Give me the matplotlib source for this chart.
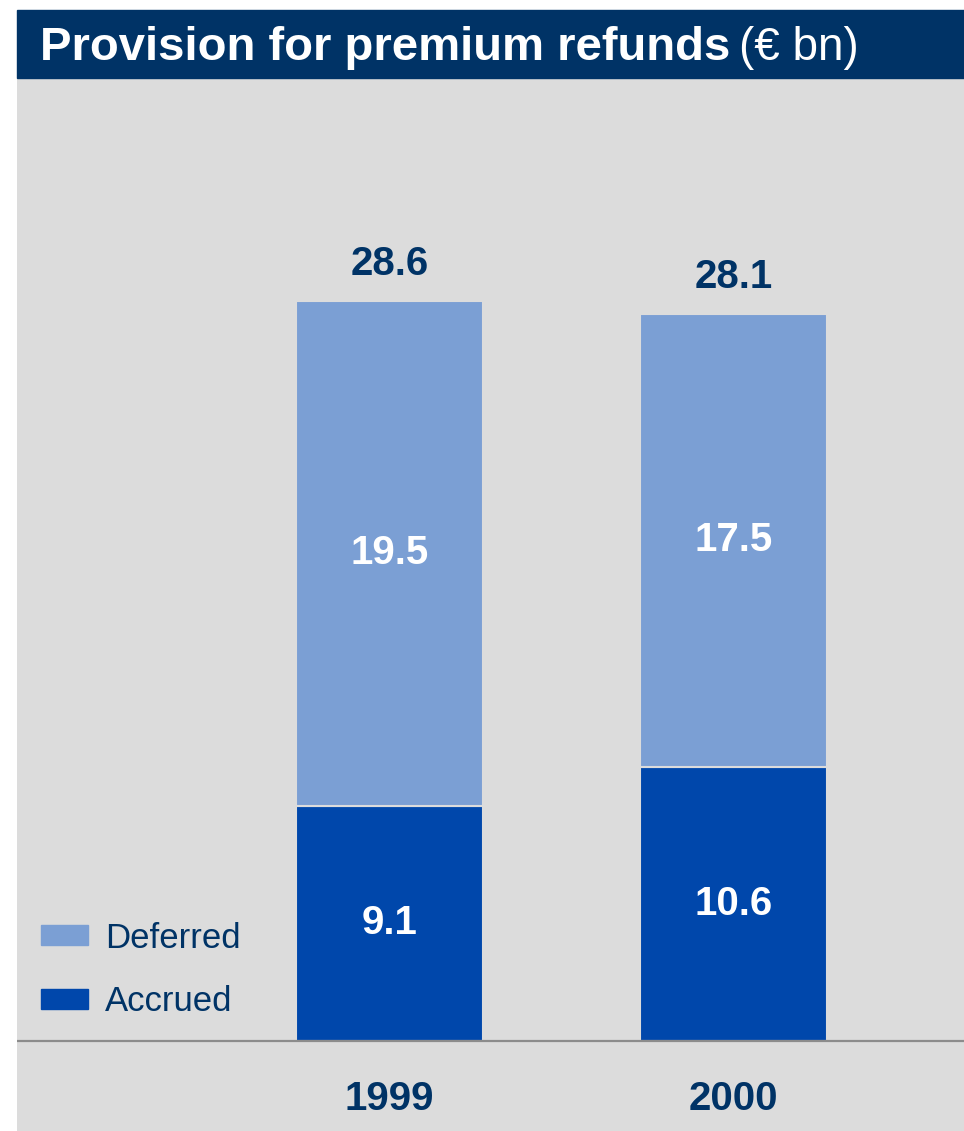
"""
Provision for premium refunds (EUR bn) - stacked bars 1999 vs 2000.
Output: out.png
"""

import matplotlib
matplotlib.use("Agg")
import matplotlib.pyplot as plt
from matplotlib.patches import Rectangle, Patch

years = ["1999", "2000"]
accrued = [9.1, 10.6]
deferred = [19.5, 17.5]
totals = [28.6, 28.1]

NAVY = "#003366"
C_DEF = "#7B9FD4"
C_ACC = "#0047AB"
BG = "#DCDCDC"

plt.rcParams["font.family"] = ["Liberation Sans", "DejaVu Sans"]

W, H = 964, 1131
fig = plt.figure(figsize=(W / 100, H / 100), dpi=100)
fig.patch.set_facecolor("white")

# panel gris
ax = fig.add_axes([17 / W, 0, (W - 17) / W, (H - 78) / H])
ax.set_facecolor(BG)
for s in ax.spines.values():
    s.set_visible(False)

# barra de titulo
fig.patches.append(Rectangle((17 / W, 1 - 78 / H), (W - 17) / W, 68 / H,
                             transform=fig.transFigure, color=NAVY, zorder=0))
t = fig.text(40 / W, 1 - 60 / H, "Provision for premium refunds",
             color="white", fontsize=34, fontweight="bold", va="baseline")
fig.canvas.draw()
bb = t.get_window_extent()
fig.text((bb.x1 + 9) / W, 1 - 60 / H, "(€ bn)", color="white",
         fontsize=33, va="baseline")

x = [0, 1]
bw = 0.544
ax.bar(x, accrued, width=bw, color=C_ACC, edgecolor=BG, linewidth=1.5,
       label="Accrued", zorder=3)
ax.bar(x, deferred, width=bw, bottom=accrued, color=C_DEF, edgecolor=BG,
       linewidth=1.5, label="Deferred", zorder=3)

ax.axhline(0, color="#8C8C8C", linewidth=1.6, zorder=4)

for i in range(len(x)):
    ax.text(x[i], accrued[i] / 2, f"{accrued[i]:.1f}", ha="center",
            va="center", color="white", fontsize=29, fontweight="bold",
            zorder=5)
    ax.text(x[i], accrued[i] + deferred[i] / 2, f"{deferred[i]:.1f}",
            ha="center", va="center", color="white", fontsize=29,
            fontweight="bold", zorder=5)
    ax.annotate(f"{totals[i]:.1f}", xy=(x[i], accrued[i] + deferred[i]),
                xytext=(0, 19), textcoords="offset points", ha="center",
                va="baseline", color=NAVY, fontsize=29, fontweight="bold")
    ax.annotate(years[i], xy=(x[i], 0), xytext=(0, -50),
                textcoords="offset points", ha="center", va="baseline",
                color=NAVY, fontsize=29, fontweight="bold")

ax.set_xlim(-1.083, 1.670)
ax.set_ylim(-3.48, 37.22)
ax.set_xticks([])
ax.set_yticks([])

handles = [Patch(color=C_DEF, label="Deferred"),
           Patch(color=C_ACC, label="Accrued")]
ax.legend(handles=handles, loc="center left", bbox_to_anchor=(0.025, 0.153),
          frameon=False, fontsize=25, labelcolor=NAVY, handlelength=1.36,
          handleheight=0.49, handletextpad=0.49, labelspacing=0.88,
          borderpad=0, borderaxespad=0)

fig.savefig("out.png", dpi=100)
